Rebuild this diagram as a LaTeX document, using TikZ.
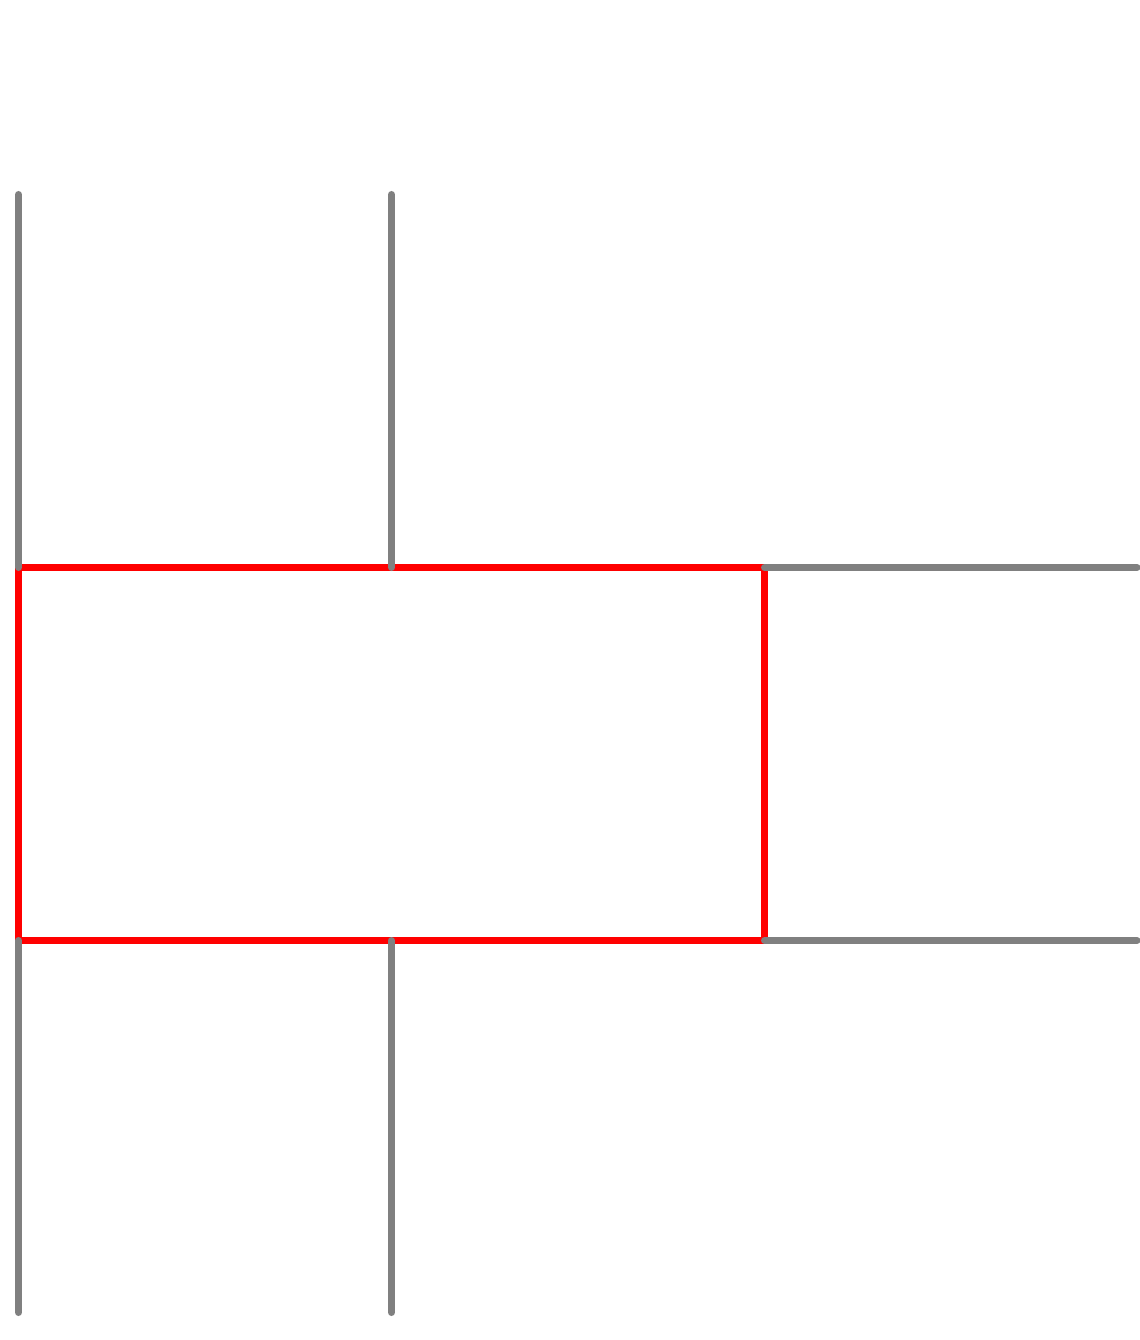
\documentclass[tikz,border=0pt]{standalone}
\begin{document}
\begin{tikzpicture}[x=0.01cm,y=-0.01cm,
  grayline/.style={draw=gray,line width=0.07cm,line cap=round},
  redbox/.style={draw=red,line width=0.07cm,line join=miter}]
\useasboundingbox (0,0) rectangle (1140,1340);
\coordinate (A) at (18.5,567.5);
\coordinate (B) at (391.5,567.5);
\coordinate (C) at (764.5,567.5);
\coordinate (D) at (18.5,940.5);
\coordinate (E) at (391.5,940.5);
\coordinate (F) at (764.5,940.5);
\coordinate (Ltop) at (18.5,194.5);
\coordinate (Mtop) at (391.5,194.5);
\coordinate (Lbot) at (18.5,1312.5);
\coordinate (Mbot) at (391.5,1312.5);
\coordinate (Rtop) at (1137,567.5);
\coordinate (Rbot) at (1137,940.5);
\draw[redbox] (A) -- (C) -- (F) -- (D) -- cycle;
\draw[grayline] (Ltop) -- (A);
\draw[grayline] (Mtop) -- (B);
\draw[grayline] (D) -- (Lbot);
\draw[grayline] (E) -- (Mbot);
\draw[grayline] (C) -- (Rtop);
\draw[grayline] (F) -- (Rbot);
\end{tikzpicture}
\end{document}
